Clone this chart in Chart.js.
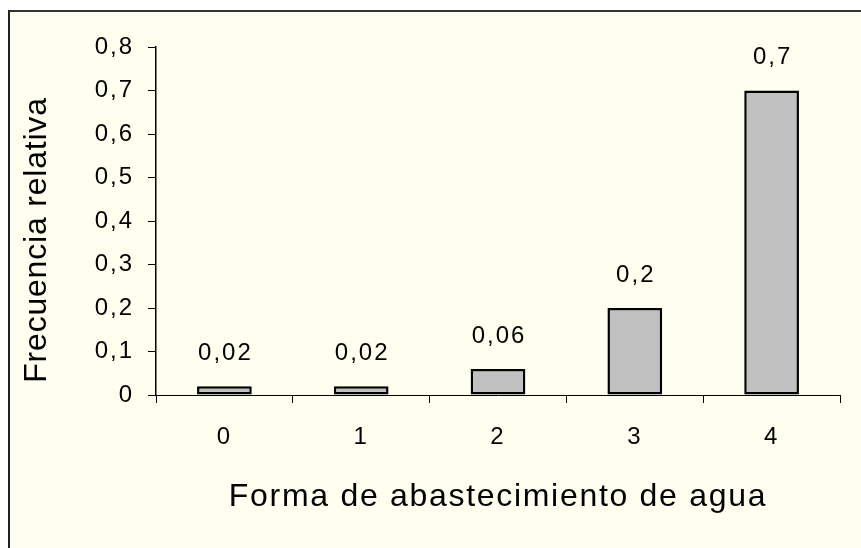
<!DOCTYPE html>
<html>
<head>
<meta charset="utf-8">
<script src="https://cdn.jsdelivr.net/npm/chart.js@4/dist/chart.umd.min.js"></script>
<style>
  html, body { margin: 0; padding: 0; background: #ffffff; }
  #wrap { position: relative; width: 861px; height: 548px; overflow: hidden; }
  #frame { position: absolute; left: 8px; top: 10px; width: 900px; height: 600px;
           background: #FFFFF0; border-left: 2px solid #222; border-top: 2px solid #333; }
  #c { position: absolute; left: 0; top: 0; }
</style>
</head>
<body>
<div id="wrap">
  <div id="frame"></div>
  <canvas id="c" width="861" height="548"></canvas>
</div>
<script>
const categories = ['0', '1', '2', '3', '4'];
const values = [0.02, 0.02, 0.06, 0.2, 0.7];
const valueLabels = ['0,02', '0,02', '0,06', '0,2', '0,7'];
const yTickLabels = ['0', '0,1', '0,2', '0,3', '0,4', '0,5', '0,6', '0,7', '0,8'];
const xTitle = 'Forma de abastecimiento de agua';
const yTitle = 'Frecuencia relativa';

const FONT = "'Liberation Sans', Arial, sans-serif";
const LABEL_SPACING = '2px';

const stylePlugin = {
  id: 'stylePlugin',
  beforeDraw(chart) {
    const ctx = chart.ctx;
    ctx.letterSpacing = LABEL_SPACING;
    const cfg = { x: { sp: '1.7px', dx: 0, dy: 0 }, y: { sp: '0.8px', dx: 0, dy: 19 } };
    for (const id of ['x', 'y']) {
      const s = chart.scales[id];
      if (s && !s._patchedTitle) {
        const orig = s.drawTitle.bind(s);
        s.drawTitle = function () {
          const c = this.ctx;
          c.save();
          c.letterSpacing = cfg[id].sp;
          c.translate(cfg[id].dx, cfg[id].dy);
          orig();
          c.restore();
        };
        s._patchedTitle = true;
      }
    }
  },
  afterDatasetsDraw(chart) {
    const ctx = chart.ctx;
    const meta = chart.getDatasetMeta(0);
    ctx.save();
    ctx.letterSpacing = LABEL_SPACING;
    ctx.font = "24px " + FONT;
    ctx.fillStyle = '#000';
    ctx.textAlign = 'center';
    ctx.textBaseline = 'middle';
    meta.data.forEach((bar, i) => {
      ctx.fillText(valueLabels[i], bar.x + 1, bar.y - 33);
    });
    ctx.restore();
  },
  afterDraw(chart) {
    chart.ctx.letterSpacing = '0px';
  }
};

new Chart(document.getElementById('c'), {
  type: 'bar',
  data: {
    labels: categories,
    datasets: [{
      data: values,
      backgroundColor: '#C0C0C0',
      borderColor: '#000000',
      borderWidth: 2.5,
      borderSkipped: false,
      categoryPercentage: 1.0,
      barPercentage: 0.4
    }]
  },
  options: {
    responsive: false,
    animation: false,
    devicePixelRatio: 1,
    layout: { padding: { top: 47, right: 21, left: 0, bottom: 0 } },
    plugins: { legend: { display: false }, tooltip: { enabled: false } },
    scales: {
      x: {
        grid: { display: true, offset: true, drawOnChartArea: false, drawTicks: true, tickLength: 8, color: '#000', lineWidth: 1 },
        border: { display: true, color: '#000', width: 1 },
        ticks: { color: '#000', font: { family: FONT, size: 24 }, padding: 20, maxRotation: 0 },
        title: { display: true, text: xTitle, color: '#000', font: { family: FONT, size: 32, weight: 'normal' }, padding: { top: 0, bottom: 32 } },
        afterFit(scale) { scale.height = 153; }
      },
      y: {
        min: 0,
        max: 0.8,
        grid: { display: true, drawOnChartArea: false, drawTicks: true, tickLength: 8, color: '#000', lineWidth: 1 },
        border: { display: true, color: '#000', width: 1.5 },
        ticks: {
          stepSize: 0.1,
          color: '#000',
          font: { family: FONT, size: 24 },
          padding: 14,
          callback: (v) => yTickLabels[Math.round(v * 10)]
        },
        title: { display: true, text: yTitle, color: '#000', font: { family: FONT, size: 32, weight: 'normal' }, padding: { top: 18, bottom: 0 } },
        afterFit(scale) { scale.width = 156; }
      }
    }
  },
  plugins: [stylePlugin]
});
</script>
</body>
</html>
